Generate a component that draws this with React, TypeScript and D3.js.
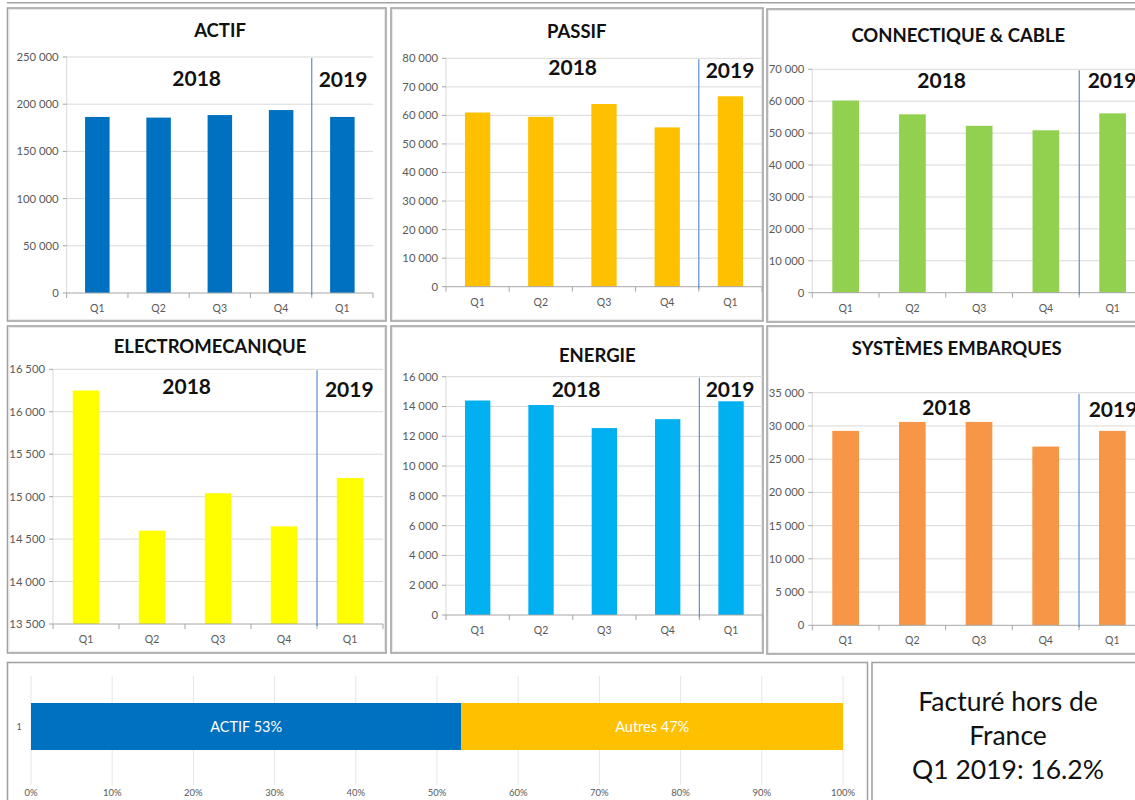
import React from "react";
import * as d3 from "d3";

const quarters = ["Q1", "Q2", "Q3", "Q4", "Q1 "];
const quarterLabels = ["Q1", "Q2", "Q3", "Q4", "Q1"];

const actifValues = [186500, 185800, 188500, 193800, 186500];
const passifValues = [61000, 59500, 64000, 55800, 66700];
const connectiqueValues = [60200, 55900, 52300, 50900, 56200];
const electroValues = [16250, 14600, 15040, 14650, 15220];
const energieValues = [14400, 14100, 12550, 13150, 14350];
const systemesValues = [29250, 30600, 30600, 26900, 29250];

const actifTicks = [0, 50000, 100000, 150000, 200000, 250000];
const passifTicks = [0, 10000, 20000, 30000, 40000, 50000, 60000, 70000, 80000];
const connectiqueTicks = [0, 10000, 20000, 30000, 40000, 50000, 60000, 70000];
const electroTicks = [13500, 14000, 14500, 15000, 15500, 16000, 16500];
const energieTicks = [0, 2000, 4000, 6000, 8000, 10000, 12000, 14000, 16000];
const systemesTicks = [0, 5000, 10000, 15000, 20000, 25000, 30000, 35000];

const shareLabels = ["ACTIF", "Autres"];
const shareValues = [53, 47];
const shareTicks = [0, 10, 20, 30, 40, 50, 60, 70, 80, 90, 100];

const noteLines = ["Facturé hors de", "France", "Q1 2019: 16.2%"];

const frLocale = d3.formatLocale({
  decimal: ",",
  thousands: " ",
  grouping: [3],
  currency: ["", " €"],
});
const fmt = frLocale.format(",d");

const FONT = "Lato, 'Open Sans', sans-serif";
const GRID = "#d9d9d9";
const AXIS = "#a6a6a6";
const LABEL = "#595959";
const BORDER = "#a3a3a3";

type PanelCfg = {
  title: string;
  values: number[];
  ticks: number[];
  color: string;
  left: number;
  right: number;
  top: number;
  bottom: number;
  titleX: number;
  titleY: number;
  y18x: number;
  y18y: number;
  y19x: number;
  y19y: number;
  box: [number, number, number, number];
};

function Panel({ cfg }: { cfg: PanelCfg }) {
  const { left, right, top, bottom, ticks } = cfg;
  const x = d3
    .scaleBand<string>()
    .domain(quarters)
    .range([left, right])
    .paddingInner(0.6)
    .paddingOuter(0.3);
  const y = d3
    .scaleLinear()
    .domain([ticks[0], ticks[ticks.length - 1]])
    .range([bottom, top]);
  const step = x.step();
  const bounds = d3.range(quarters.length + 1).map((i) => left + i * step);
  const sepX = left + 4 * step;
  const [bx, by, bw, bh] = cfg.box;
  return (
    <g>
      <rect x={bx} y={by} width={bw} height={bh} fill="#fff" stroke={BORDER} strokeWidth={1.6} />
      <rect x={bx + 1.5} y={by + 1.5} width={bw - 3} height={bh - 3} fill="none" stroke="#e4e4e4" strokeWidth={0.8} />
      {ticks.slice(1).map((t) => (
        <line key={"g" + t} x1={left} x2={right} y1={y(t)} y2={y(t)} stroke={GRID} strokeWidth={1} />
      ))}
      <line x1={left} x2={left} y1={top} y2={bottom} stroke={GRID} strokeWidth={1} />
      {ticks.map((t) => (
        <g key={"t" + t}>
          <line x1={left - 4} x2={left} y1={y(t)} y2={y(t)} stroke={AXIS} strokeWidth={1} />
          <text x={left - 8} y={y(t)} dy="0.35em" textAnchor="end" fontSize={11.3} fill={LABEL} fontFamily={FONT}>
            {fmt(t)}
          </text>
        </g>
      ))}
      {quarters.map((q, i) => (
        <rect
          key={q}
          x={x(q)}
          y={y(cfg.values[i])}
          width={x.bandwidth()}
          height={bottom - y(cfg.values[i])}
          fill={cfg.color}
        />
      ))}
      <line x1={left} x2={right} y1={bottom} y2={bottom} stroke={AXIS} strokeWidth={1} />
      {bounds.map((b, i) => (
        <line key={"b" + i} x1={b} x2={b} y1={bottom} y2={bottom + 5} stroke={AXIS} strokeWidth={1} />
      ))}
      {quarters.map((q, i) => (
        <text
          key={"l" + q}
          x={(x(q) as number) + x.bandwidth() / 2}
          y={bottom + 19}
          textAnchor="middle"
          fontSize={10.5}
          fill={LABEL}
          fontFamily={FONT}
        >
          {quarterLabels[i]}
        </text>
      ))}
      <line x1={sepX} x2={sepX} y1={top + 1} y2={bottom + 2} stroke="#5b8fd0" strokeWidth={1.2} />
      <text x={cfg.titleX} y={cfg.titleY} textAnchor="middle" fontSize={18.5} fontWeight="bold" fill="#111" fontFamily={FONT}>
        {cfg.title}
      </text>
      <text x={cfg.y18x} y={cfg.y18y} textAnchor="middle" fontSize={21} fontWeight="bold" fill="#111" fontFamily={FONT}>
        2018
      </text>
      <text x={cfg.y19x} y={cfg.y19y} textAnchor="middle" fontSize={21} fontWeight="bold" fill="#111" fontFamily={FONT}>
        2019
      </text>
    </g>
  );
}

const panels: PanelCfg[] = [
  {
    title: "ACTIF", values: actifValues, ticks: actifTicks, color: "#0070c0",
    left: 66.7, right: 373, top: 57, bottom: 293,
    titleX: 220, titleY: 37, y18x: 196.7, y18y: 86, y19x: 343, y19y: 87,
    box: [7.5, 8, 378.5, 313],
  },
  {
    title: "PASSIF", values: passifValues, ticks: passifTicks, color: "#ffc000",
    left: 446, right: 762, top: 58.3, bottom: 286.7,
    titleX: 576.7, titleY: 38, y18x: 572.7, y18y: 75, y19x: 730, y19y: 78,
    box: [391, 8, 372, 313],
  },
  {
    title: "CONNECTIQUE & CABLE", values: connectiqueValues, ticks: connectiqueTicks, color: "#92d050",
    left: 812.3, right: 1146, top: 69.3, bottom: 292.7,
    titleX: 958.3, titleY: 41.7, y18x: 941.7, y18y: 88.3, y19x: 1112, y19y: 88.3,
    box: [767, 9, 380, 313],
  },
  {
    title: "ELECTROMECANIQUE", values: electroValues, ticks: electroTicks, color: "#ffff00",
    left: 53, right: 383, top: 369.3, bottom: 624,
    titleX: 210, titleY: 353.3, y18x: 186.7, y18y: 394, y19x: 349.3, y19y: 397.3,
    box: [7.5, 326, 378.5, 327],
  },
  {
    title: "ENERGIE", values: energieValues, ticks: energieTicks, color: "#00b0f0",
    left: 446, right: 762.7, top: 376.7, bottom: 615,
    titleX: 597.3, titleY: 361.7, y18x: 576, y18y: 397.3, y19x: 730, y19y: 396.7,
    box: [391, 326, 372, 327],
  },
  {
    title: "SYSTÈMES EMBARQUES", values: systemesValues, ticks: systemesTicks, color: "#f79646",
    left: 812.3, right: 1145.7, top: 392.7, bottom: 625.3,
    titleX: 956.7, titleY: 355, y18x: 946.7, y18y: 415, y19x: 1113, y19y: 416.7,
    box: [767, 326, 380, 328],
  },
];

function SharePanel() {
  const left = 31;
  const right = 843;
  const x = d3.scaleLinear().domain([0, 100]).range([left, right]);
  const barTop = 703;
  const barBottom = 750;
  const colors = ["#0070c0", "#ffc000"];
  const starts = d3.cumsum([0, ...shareValues]);
  return (
    <g>
      <rect x={7.5} y={662.5} width={860} height={150} fill="#fff" stroke={BORDER} strokeWidth={1.6} />
      {shareTicks.map((t) => (
        <line key={"sg" + t} x1={x(t)} x2={x(t)} y1={676} y2={785} stroke="#e6e6e6" strokeWidth={1} />
      ))}
      {shareValues.map((v, i) => (
        <rect key={"s" + i} x={x(starts[i])} y={barTop} width={x(starts[i] + v) - x(starts[i])} height={barBottom - barTop} fill={colors[i]} />
      ))}
      {shareValues.map((v, i) => (
        <text
          key={"st" + i}
          x={(x(starts[i]) + x(starts[i] + v)) / 2}
          y={(barTop + barBottom) / 2}
          dy="0.35em"
          textAnchor="middle"
          fontSize={14.5}
          fill="#fff"
          fontFamily={FONT}
        >
          {`${shareLabels[i]} ${v}%`}
        </text>
      ))}
      <text x={19} y={(barTop + barBottom) / 2} dy="0.35em" textAnchor="middle" fontSize={9} fill={LABEL} fontFamily={FONT}>
        1
      </text>
      {shareTicks.map((t) => (
        <text key={"sl" + t} x={x(t)} y={796} textAnchor="middle" fontSize={9.5} fill={LABEL} fontFamily={FONT}>
          {`${t}%`}
        </text>
      ))}
    </g>
  );
}

function NotePanel() {
  const cx = 1008;
  const baselines = [711, 745, 779];
  return (
    <g>
      <rect x={872} y={662.5} width={280} height={150} fill="#fff" stroke={BORDER} strokeWidth={1.6} />
      {noteLines.map((l, i) => (
        <text key={l} x={cx} y={baselines[i]} textAnchor="middle" fontSize={26.5} fill="#111" fontFamily={FONT}>
          {l}
        </text>
      ))}
    </g>
  );
}

export default function App() {
  return (
    <svg
      width={1135}
      height={800}
      style={{ position: "absolute", left: 0, top: 0, background: "#fff" }}
    >
      <line x1={7} x2={1135} y1={2.7} y2={2.7} stroke={BORDER} strokeWidth={1.5} />
      {panels.map((p) => (
        <Panel key={p.title} cfg={p} />
      ))}
      <SharePanel />
      <NotePanel />
    </svg>
  );
}
